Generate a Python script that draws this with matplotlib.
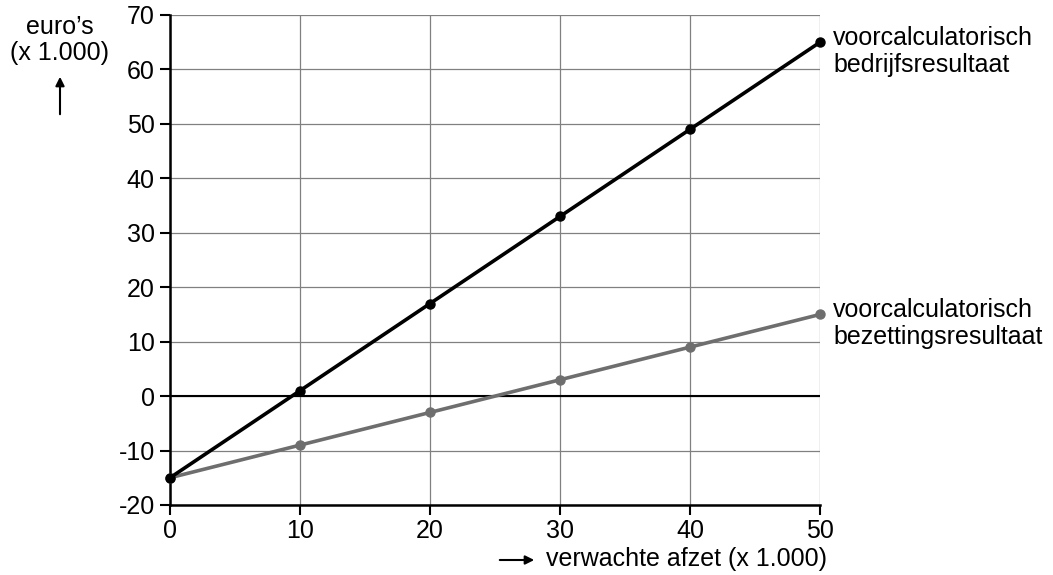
import matplotlib
matplotlib.use("Agg")
import matplotlib.pyplot as plt
from matplotlib.patches import FancyArrowPatch

plt.rcParams["font.family"] = ["Liberation Sans", "DejaVu Sans"]
plt.rcParams["axes.unicode_minus"] = False

afzet = [0, 10, 20, 30, 40, 50]
bedrijfsresultaat = [-15, 1, 17, 33, 49, 65]
bezettingsresultaat = [-15, -9, -3, 3, 9, 15]
x_ticks = [0, 10, 20, 30, 40, 50]
y_ticks = [-20, -10, 0, 10, 20, 30, 40, 50, 60, 70]

W, H = 1053, 575
fig = plt.figure(figsize=(W / 100, H / 100), dpi=100)
ax = fig.add_axes([170 / W, 1 - 505 / H, 650 / W, 490 / H])

ax.set_xlim(0, 50)
ax.set_ylim(-20, 70)
ax.set_xticks(x_ticks)
ax.set_yticks(y_ticks)
ax.grid(True, color="#808080", lw=0.9)
ax.set_axisbelow(True)
ax.axhline(0, color="black", lw=1.5, zorder=1.5)

for s in ["top", "right"]:
    ax.spines[s].set_visible(False)
for s in ["left", "bottom"]:
    ax.spines[s].set_linewidth(1.8)
ax.tick_params(labelsize=18, width=1.5, length=7)
ax.tick_params(axis="y", pad=4)
ax.tick_params(axis="x", pad=3)

ax.plot(afzet, bezettingsresultaat, color="#6e6e6e", lw=2.6, marker="o",
        ms=6.5, clip_on=False, zorder=3)
ax.plot(afzet, bedrijfsresultaat, color="black", lw=2.6, marker="o",
        ms=6.5, clip_on=False, zorder=4)

# labels at the line ends
for yv, lab in [(bedrijfsresultaat[-1], "voorcalculatorisch\nbedrijfsresultaat"),
                (bezettingsresultaat[-1], "voorcalculatorisch\nbezettingsresultaat")]:
    ax.annotate(lab, (50, yv), xytext=(13, -9), textcoords="offset pixels",
                fontsize=18, va="center", ha="left", linespacing=1.15,
                annotation_clip=False)

# axis titles with arrows
fig.text(60 / W, 1 - 40 / H, "euro\u2019s\n(x 1.000)", fontsize=18,
         ha="center", va="center", linespacing=1.1)
fig.patches.append(FancyArrowPatch(
    (60 / W, 1 - 117 / H), (60 / W, 1 - 74 / H),
    transform=fig.transFigure, arrowstyle="-|>", mutation_scale=13,
    color="black", lw=1.5))

fig.text(546 / W, 1 - 559 / H, "verwachte afzet (x 1.000)", fontsize=18,
         ha="left", va="center")
fig.patches.append(FancyArrowPatch(
    (497 / W, 1 - 560 / H), (537 / W, 1 - 560 / H),
    transform=fig.transFigure, arrowstyle="-|>", mutation_scale=13,
    color="black", lw=1.5))

fig.savefig("out.png", dpi=100)
